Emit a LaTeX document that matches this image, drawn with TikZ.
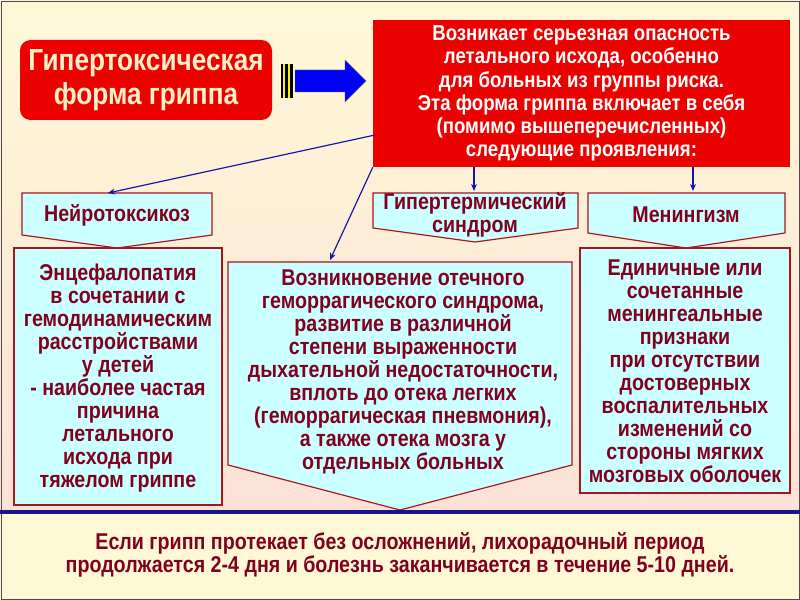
\documentclass[tikz,border=0pt]{standalone}
\usepackage{fontspec}
\setmainfont{Liberation Sans}[BoldFeatures={FakeStretch=0.86}]
\usetikzlibrary{arrows.meta}
\definecolor{txtred}{RGB}{128,0,32}
\definecolor{boxred}{RGB}{236,0,0}
\definecolor{cyanbox}{RGB}{204,255,255}
\definecolor{edge}{RGB}{170,20,30}
\definecolor{cream}{RGB}{255,248,215}
\definecolor{linkblue}{RGB}{20,20,170}
\definecolor{ruleblue}{RGB}{20,20,140}
\definecolor{pinkish}{RGB}{252,225,215}
\definecolor{titletext}{RGB}{255,240,200}
\tikzset{
  lbl/.style={font=\bfseries\fontsize{19.5}{19.6}\selectfont, text=txtred, align=center, inner sep=0pt},
  cbox/.style={draw=edge, line width=1pt, fill=cyanbox},
  link/.style={draw=linkblue, line width=1pt, -{Stealth[length=6pt,width=5pt]}}
}
\begin{document}
\begin{tikzpicture}[x=0.03cm,y=-0.03cm]
\useasboundingbox (0,0) rectangle (800,600);
\shade[top color=cream, bottom color=pinkish] (0,0) rectangle (800,512);
\fill[cream] (0,512) rectangle (800,600);
\draw[black!70] (1,1) rectangle (799,599);

% title and big arrow
\node[fill=boxred, rounded corners=9pt, minimum width=252*0.03cm, minimum height=80*0.03cm,
  text=titletext, font=\bfseries\fontsize{26}{29}\selectfont, align=center, inner sep=0pt]
  (title) at (146,80) {Гипертоксическая\\форма гриппа};
\fill[black] (281,64) rectangle (293,98);
\fill[yellow] (283,64) rectangle (285,98);
\fill[yellow] (288,64) rectangle (290,98);
\draw[fill=blue, draw=black!60] (295,70) -- (345,70) -- (345,60) -- (366,81) -- (345,102) -- (345,92) -- (295,92) -- cycle;

% red box
\node[fill=boxred, minimum width=417*0.03cm, minimum height=147*0.03cm, text=white, inner sep=0pt,
  font=\bfseries\fontsize{18.5}{19.9}\selectfont, align=center] (danger) at (581.5,93.5)
  {Возникает серьезная опасность\\летального исхода, особенно\\для больных из группы риска.\\Эта форма гриппа включает в себя\\(помимо вышеперечисленных)\\следующие проявления:};

% headers
\draw[cbox] (22,193) -- (212,193) -- (212,235) -- (117,248) -- (22,235) -- cycle;
\node[lbl] (neuro) at (117,215) {Нейротоксикоз};
\draw[cbox] (373,193) -- (578,193) -- (578,228) -- (475,242) -- (373,228) -- cycle;
\node[lbl] (hyper) at (475,215) {Гипертермический\\синдром};
\draw[cbox] (588,193) -- (785,193) -- (785,233) -- (686,248) -- (588,233) -- cycle;
\node[lbl] (mening) at (686,215) {Менингизм};

% bodies
\draw[cbox] (14,248) rectangle (222,505);
\node[lbl] (encef) at (118,378) {Энцефалопатия\\в сочетании с\\гемодинамическим\\расстройствами\\у детей\\- наиболее частая\\причина\\летального\\исхода при\\тяжелом гриппе};
\draw[cbox] (228,262) -- (572,262) -- (572,465) -- (400,510) -- (228,465) -- cycle;
\node[lbl] (edema) at (403,372) {Возникновение отечного\\геморрагического синдрома,\\развитие в различной\\степени выраженности\\дыхательной недостаточности,\\вплоть до отека легких\\(геморрагическая пневмония),\\а также отека мозга у\\отдельных больных};
\draw[cbox] (580,248) rectangle (790,493);
\node[lbl] (signs) at (685,371) {Единичные или\\сочетанные\\менингеальные\\признаки\\при отсутствии\\достоверных\\воспалительных\\изменений со\\стороны мягких\\мозговых оболочек};

% connectors
\coordinate (d1) at (375,135);
\coordinate (n1) at (108,193);
\coordinate (n2) at (330,260);
\coordinate (n3) at (474,191);
\coordinate (n4) at (693,191);
\draw[link] (d1) -- (n1);
\draw[link] (danger.south west) -- (n2);
\draw[link] (danger.south -| n3) -- (n3);
\draw[link] (danger.south -| n4) -- (n4);

% footer
\draw[line width=3pt, ruleblue] (0,512) -- (800,512);
\node[lbl, font=\bfseries\fontsize{19.5}{19.6}\selectfont] (note) at (400,555)
  {Если грипп протекает без осложнений, лихорадочный период\\продолжается 2-4 дня и болезнь заканчивается в течение 5-10 дней.};
\end{tikzpicture}
\end{document}
